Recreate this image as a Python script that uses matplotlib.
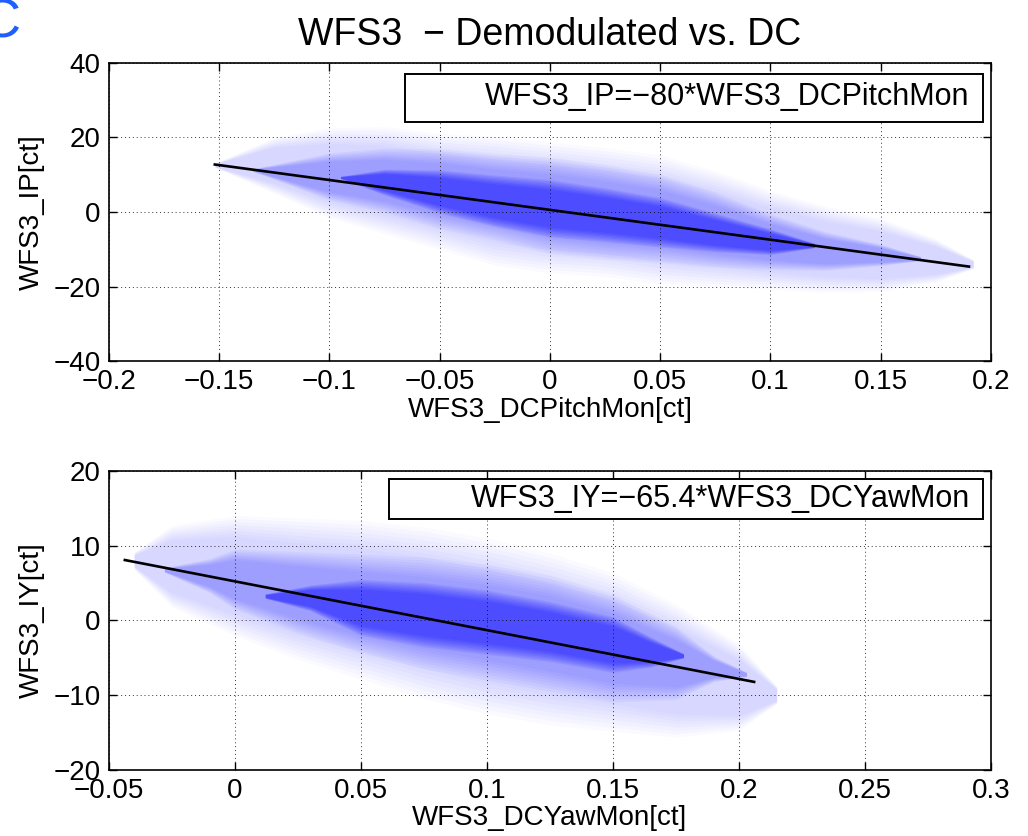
import numpy as np
import matplotlib
matplotlib.use('Agg')
import matplotlib.pyplot as plt
from matplotlib.patches import Rectangle

plt.rcParams['font.family'] = ['Liberation Sans', 'DejaVu Sans']

# ----------------------------------------------------------------------
# top panel: WFS3_IP vs WFS3_DCPitchMon
# the point cloud is described by envelopes
# (outer haze, medium density, dense core), each as x / upper / lower
# ----------------------------------------------------------------------
ip_outer_x = [-0.152, -0.125, -0.1, -0.075, -0.05, -0.025, 0.0, 0.025, 0.05, 0.075, 0.1, 0.125, 0.15, 0.175, 0.192]
ip_outer_hi = [13, 19, 21, 21, 19, 18, 16.5, 15, 13, 9, 4, 0, -3, -8, -13]
ip_outer_lo = [12, 6, 0, -4, -8, -12, -14, -15, -17, -18, -19, -20, -20, -18, -15]

ip_mid_x = [-0.135, -0.1, -0.075, -0.05, -0.025, 0.0, 0.025, 0.05, 0.075, 0.1, 0.125, 0.15, 0.168]
ip_mid_hi = [11.5, 15, 16, 15.5, 14, 13, 11, 8.5, 4, -1.5, -6, -9, -12]
ip_mid_lo = [11, 4, 1, -3, -6, -9.5, -11, -12, -13.5, -14.5, -15, -14, -13]

ip_core_x = [-0.095, -0.075, -0.05, -0.025, 0.0, 0.025, 0.05, 0.075, 0.1, 0.12]
ip_core_hi = [9.5, 11, 10.5, 9, 7.7, 5.5, 3, -1, -5, -8.5]
ip_core_lo = [9, 5, 0.5, -3, -5.7, -7, -8.5, -10, -11, -9.5]

ip_slope = -80.0
ip_offset = 0.55
ip_fit_x = [-0.152, 0.19]

# ----------------------------------------------------------------------
# bottom panel: WFS3_IY vs WFS3_DCYawMon
# ----------------------------------------------------------------------
iy_outer_x = [-0.04, -0.025, 0.0, 0.025, 0.05, 0.075, 0.1, 0.125, 0.15, 0.175, 0.2, 0.215]
iy_outer_hi = [9, 12, 13, 12.5, 12, 11, 9.5, 7.5, 5, 1, -4, -9]
iy_outer_lo = [7, 2.5, -1, -4, -6.5, -9, -11, -12.5, -13.5, -14.5, -14, -11]

iy_mid_x = [-0.028, -0.01, 0.0, 0.025, 0.05, 0.075, 0.1, 0.125, 0.15, 0.175, 0.19, 0.203]
iy_mid_hi = [7, 8, 9, 8.5, 8, 7.5, 6.5, 5, 2.5, -1.5, -5, -7]
iy_mid_lo = [6.5, 4, 2, -1, -3.5, -5.5, -7, -8.5, -10, -10, -8, -7.5]

iy_core_x = [0.012, 0.03, 0.05, 0.075, 0.1, 0.125, 0.15, 0.165, 0.178]
iy_core_hi = [3.5, 4.5, 5, 4.5, 3.5, 2, 0, -2.5, -4.5]
iy_core_lo = [3, 1.5, -1.5, -3, -4, -5, -6.5, -6, -5]

iy_slope = -65.4
iy_offset = 5.22
iy_fit_x = [-0.0437, 0.206]

TICK_FS = 20
BLUE = (0.0, 0.0, 1.0)
LEVEL_ALPHA = [0.14, 0.26, 0.5]
N_FEATHER = 8


def soft_band(ax, xs, hi, lo, alpha):
    """Fill one density level with a feathered edge (stack of shrinking bands)."""
    hi = np.asarray(hi, float)
    lo = np.asarray(lo, float)
    mid = (hi + lo) / 2
    half = (hi - lo) / 2
    a = 1 - (1 - alpha) ** (1.0 / N_FEATHER)
    for s in np.linspace(1.15, 0.75, N_FEATHER):
        ax.fill_between(xs, mid - s * half, mid + s * half, color=BLUE,
                        alpha=a, linewidth=0, zorder=1)


def draw_panel(ax, levels, slope, offset, fit_x, xlim, ylim, xticks, yticks,
               xlabel, ylabel, legend_text, box, text_y):
    for (xs, hi, lo), alpha in zip(levels, LEVEL_ALPHA):
        soft_band(ax, xs, hi, lo, alpha)

    fx = np.array(fit_x)
    ax.plot(fx, slope * fx + offset, color='k', lw=1.9, zorder=3)

    ax.set_xlim(*xlim)
    ax.set_ylim(*ylim)
    ax.set_xticks(xticks)
    ax.set_yticks(yticks)
    ax.set_xticklabels([f'{t:g}'.replace('-', '\u2212') for t in xticks])
    ax.set_yticklabels([f'{t:g}'.replace('-', '\u2212') for t in yticks])
    ax.tick_params(direction='in', length=6, width=1.0, top=True, right=True,
                   labelsize=TICK_FS, pad=6)
    ax.grid(True, color='k', linestyle=(0, (1, 3)), linewidth=0.7, alpha=0.8)
    for sp in ax.spines.values():
        sp.set_linewidth(1.2)
    ax.set_xlabel(xlabel, fontsize=20, labelpad=1)
    ax.set_ylabel(ylabel, fontsize=20, labelpad=6)

    x0, y0, x1, y1 = box
    ax.add_patch(Rectangle((x0, y0), x1 - x0, y1 - y0, transform=ax.transAxes,
                           facecolor='white', edgecolor='k', lw=1.4, zorder=5))
    ax.text(x1 - 0.015, text_y, legend_text, transform=ax.transAxes,
            ha='right', va='center', fontsize=22, zorder=6)


fig = plt.figure(figsize=(10.28, 8.36), dpi=100)
ax1 = fig.add_axes([0.106, 0.568, 0.858, 0.357])
ax2 = fig.add_axes([0.106, 0.0795, 0.858, 0.357])

draw_panel(ax1,
           [(ip_outer_x, ip_outer_hi, ip_outer_lo),
            (ip_mid_x, ip_mid_hi, ip_mid_lo),
            (ip_core_x, ip_core_hi, ip_core_lo)],
           ip_slope, ip_offset, ip_fit_x,
           (-0.2, 0.2), (-40, 40),
           [-0.2, -0.15, -0.1, -0.05, 0, 0.05, 0.1, 0.15, 0.2], [-40, -20, 0, 20, 40],
           'WFS3_DCPitchMon[ct]', 'WFS3_IP[ct]',
           'WFS3_IP=\u221280*WFS3_DCPitchMon', (0.3356, 0.8007, 0.991, 0.963), 0.884)

draw_panel(ax2,
           [(iy_outer_x, iy_outer_hi, iy_outer_lo),
            (iy_mid_x, iy_mid_hi, iy_mid_lo),
            (iy_core_x, iy_core_hi, iy_core_lo)],
           iy_slope, iy_offset, iy_fit_x,
           (-0.05, 0.3), (-20, 20),
           [-0.05, 0, 0.05, 0.1, 0.15, 0.2, 0.25, 0.3], [-20, -10, 0, 10, 20],
           'WFS3_DCYawMon[ct]', 'WFS3_IY[ct]',
           'WFS3_IY=\u221265.4*WFS3_DCYawMon', (0.3175, 0.839, 0.991, 0.973), 0.906)

ax1.set_title('WFS3  \u2212 Demodulated vs. DC', fontsize=27, pad=13)
fig.text(-0.019, 0.972, 'C', color='#1f5fff', fontsize=40, ha='left', va='center')

fig.savefig('out.png', dpi=100)
